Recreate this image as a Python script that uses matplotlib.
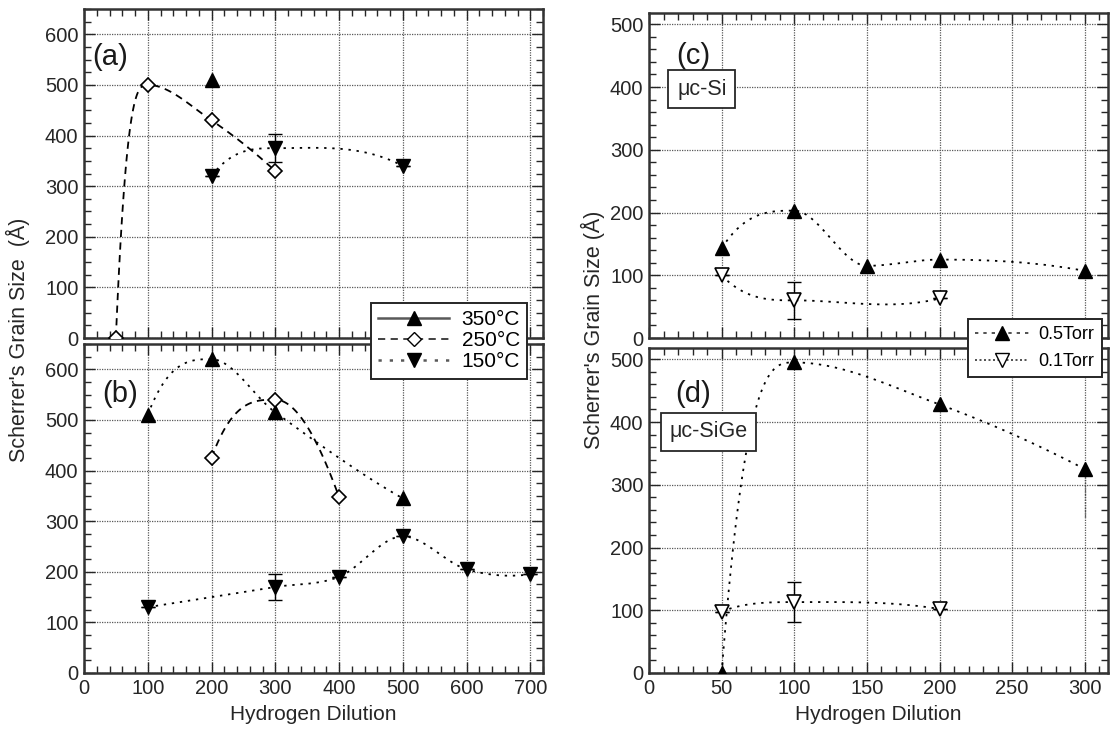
import numpy as np
import matplotlib
matplotlib.use("Agg")
import matplotlib.pyplot as plt
from matplotlib.lines import Line2D
from matplotlib.ticker import MultipleLocator

plt.rcParams["font.family"] = ["Liberation Sans", "DejaVu Sans"]

# ---- data ----
# (a) and (b): grain size vs hydrogen dilution for three substrate temperatures
a_350_x = [200]
a_350_y = [510]
a_250_x = [50, 100, 200, 300]
a_250_y = [0, 500, 430, 330]
a_150_x = [200, 300, 500]
a_150_y = [320, 375, 340]
a_150_err = [0, 28, 0]

b_350_x = [100, 200, 300, 500]
b_350_y = [510, 620, 515, 345]
b_250_x = [200, 300, 400]
b_250_y = [425, 540, 348]
b_150_x = [100, 300, 400, 500, 600, 700]
b_150_y = [130, 170, 190, 270, 205, 195]
b_150_err = [0, 25, 0, 0, 0, 0]

# (c) uc-Si and (d) uc-SiGe for two pressures
c_05_x = [50, 100, 150, 200, 300]
c_05_y = [143, 203, 115, 125, 107]
c_01_x = [50, 100, 200]
c_01_y = [100, 60, 63]
c_01_err = [0, 30, 0]

d_05_x = [50, 100, 200, 300]
d_05_y = [0, 495, 428, 325]
d_05_err_low = [0, 0, 0, 77]
d_01_x = [50, 100, 200]
d_01_y = [98, 113, 102]
d_01_err = [0, 32, 0]

W, H = 1113, 730


def smooth(xs, ys, n=40):
    """Shape-preserving Hermite curve through the points (guide line only)."""
    xs = np.asarray(xs, float)
    ys = np.asarray(ys, float)
    d = np.diff(ys) / np.diff(xs)
    m = np.empty_like(ys)
    m[0] = d[0]
    m[-1] = d[-1]
    for i in range(1, len(xs) - 1):
        if d[i - 1] * d[i] <= 0:
            m[i] = 0.0
        else:
            m[i] = (ys[i + 1] - ys[i - 1]) / (xs[i + 1] - xs[i - 1])
    if len(xs) > 2:
        if m[1] == 0:
            m[0] = 3 * d[0]
        else:
            h0, h1 = xs[1] - xs[0], xs[2] - xs[1]
            m[0] = ((2 * h0 + h1) * d[0] - h0 * d[1]) / (h0 + h1)
        h0, h1 = xs[-1] - xs[-2], xs[-2] - xs[-3]
        m[-1] = ((2 * h0 + h1) * d[-1] - h0 * d[-2]) / (h0 + h1)
    out_x, out_y = [], []
    for i in range(len(xs) - 1):
        h = xs[i + 1] - xs[i]
        t = np.linspace(0, 1, n)
        h00 = 2 * t**3 - 3 * t**2 + 1
        h10 = t**3 - 2 * t**2 + t
        h01 = -2 * t**3 + 3 * t**2
        h11 = t**3 - t**2
        out_x.extend(xs[i] + t * h)
        out_y.extend(h00 * ys[i] + h10 * h * m[i] + h01 * ys[i + 1] + h11 * h * m[i + 1])
    return np.array(out_x), np.array(out_y)


def axes_px(fig, left, top, right, bottom):
    return fig.add_axes([left / W, 1 - bottom / H, (right - left) / W, (bottom - top) / H])


def style_axes(ax, xmax, ymax, xmajor, xminor, ymajor, yminor, show_x):
    ax.set_xlim(0, xmax)
    ax.set_ylim(0, ymax)
    ax.xaxis.set_major_locator(MultipleLocator(xmajor))
    ax.xaxis.set_minor_locator(MultipleLocator(xminor))
    ax.yaxis.set_major_locator(MultipleLocator(ymajor))
    ax.yaxis.set_minor_locator(MultipleLocator(yminor))
    ax.tick_params(which="both", direction="in", top=True, right=True, labelsize=14.5,
                   colors="0.15", pad=4)
    ax.tick_params(which="major", length=8, width=1.0)
    ax.tick_params(which="minor", length=5, width=1.0)
    ax.grid(True, which="major", color="0.35", linestyle=(0, (1, 1)), linewidth=0.9)
    for sp in ax.spines.values():
        sp.set_linewidth(1.8)
        sp.set_color("0.2")
    if not show_x:
        ax.tick_params(labelbottom=False)


def curve(ax, xs, ys, ls, lw=1.3):
    sx, sy = smooth(xs, ys)
    ax.plot(sx, sy, color="black", linestyle=ls, linewidth=lw, zorder=2)


def errbar(ax, xs, ys, yerr, cap=5, color="black", ls="-"):
    eb = ax.errorbar(xs, ys, yerr=yerr, fmt="none", ecolor=color, elinewidth=1,
                     capsize=cap, zorder=3)
    eb[2][0].set_linestyle(ls)


up = dict(marker="^", color="black", markersize=10, linestyle="none", zorder=4)
dn = dict(marker="v", color="black", markersize=10, linestyle="none", zorder=4)
dia = dict(marker="D", markerfacecolor="white", markeredgecolor="black", markersize=7.5,
           markeredgewidth=1.2, linestyle="none", zorder=4)
dn_open = dict(marker="v", markerfacecolor="white", markeredgecolor="black", markersize=10.5,
               markeredgewidth=1.2, linestyle="none", zorder=4)

dashed = (0, (4, 3))
dotted = (0, (1.3, 3.2))

fig = plt.figure(figsize=(W / 100, H / 100), dpi=100)

# ---- left column ----
ax_a = axes_px(fig, 84, 9, 543, 338)
ax_b = axes_px(fig, 84, 344, 543, 673)
for ax, lab in ((ax_a, False), (ax_b, True)):
    style_axes(ax, 720, 650, 100, 20, 100, 25, lab)

curve(ax_a, a_250_x, a_250_y, dashed)
curve(ax_a, a_150_x, a_150_y, dotted)
ax_a.plot(a_350_x, a_350_y, **up)
ax_a.plot(a_250_x, a_250_y, **dia)
errbar(ax_a, a_150_x, a_150_y, a_150_err)
ax_a.plot(a_150_x, a_150_y, **dn)
ax_a.text(0.017, 0.854, "(a)", transform=ax_a.transAxes, fontsize=21, va="center", color="0.1")

curve(ax_b, b_350_x, b_350_y, dotted)
curve(ax_b, b_250_x, b_250_y, dashed)
curve(ax_b, b_150_x, b_150_y, dotted)
ax_b.plot(b_350_x, b_350_y, **up)
ax_b.plot(b_250_x, b_250_y, **dia)
errbar(ax_b, b_150_x, b_150_y, b_150_err)
ax_b.plot(b_150_x, b_150_y, **dn)
ax_b.text(0.039, 0.848, "(b)", transform=ax_b.transAxes, fontsize=21, va="center", color="0.1")
ax_b.set_xlabel("Hydrogen Dilution", fontsize=15, color="0.15", labelpad=5)

left_handles = [
    Line2D([], [], color="0.35", linestyle="-", linewidth=1.8, marker="^", markersize=10,
           markerfacecolor="black", markeredgecolor="black"),
    Line2D([], [], color="0.2", linestyle=dashed, linewidth=1.3, marker="D", markersize=7.5,
           markerfacecolor="white", markeredgecolor="black"),
    Line2D([], [], color="0.35", linestyle=dotted, linewidth=1.8, marker="v", markersize=10,
           markerfacecolor="black", markeredgecolor="black"),
]
leg = fig.legend(left_handles, ["350°C", "250°C", "150°C"], loc="upper left",
                 bbox_to_anchor=(371 / W, 1 - 303 / H), fontsize=15, handlelength=3.4,
                 handletextpad=0.6, labelspacing=0.1, borderpad=0.35, borderaxespad=0,
                 fancybox=False, framealpha=1, edgecolor="0.15")
leg.get_frame().set_linewidth(1.4)

fig.text(18 / W, 1 - 340 / H, "Scherrer's Grain Size  (Å)", rotation=90, fontsize=15.5,
         color="0.15", ha="center", va="center")

# ---- right column ----
ax_c = axes_px(fig, 649, 13, 1108, 338)
ax_d = axes_px(fig, 649, 348, 1108, 673)
for ax, lab in ((ax_c, False), (ax_d, True)):
    style_axes(ax, 316, 518, 50, 10, 100, 20, lab)

curve(ax_c, c_05_x, c_05_y, dotted)
curve(ax_c, c_01_x, c_01_y, dotted)
ax_c.plot(c_05_x, c_05_y, **up)
errbar(ax_c, c_01_x, c_01_y, c_01_err)
ax_c.plot(c_01_x, c_01_y, **dn_open)
ax_c.text(0.059, 0.868, "(c)", transform=ax_c.transAxes, fontsize=21, va="center", color="0.1")
ax_c.text(0.115, 0.766, "μc-Si", transform=ax_c.transAxes, fontsize=15.5, ha="center", va="center",
          color="0.15",
          bbox=dict(boxstyle="square,pad=0.4", facecolor="white", edgecolor="0.15", linewidth=1.3))

curve(ax_d, d_05_x, d_05_y, dotted)
curve(ax_d, d_01_x, d_01_y, dotted)
ax_d.plot(d_05_x, d_05_y, **up)
errbar(ax_d, d_05_x, d_05_y, [d_05_err_low, [0] * len(d_05_x)], cap=0, color="0.3", ls=(0, (1, 1)))
errbar(ax_d, d_01_x, d_01_y, d_01_err)
ax_d.plot(d_01_x, d_01_y, **dn_open)
ax_d.text(0.057, 0.86, "(d)", transform=ax_d.transAxes, fontsize=21, va="center", color="0.1")
ax_d.text(0.129, 0.742, "μc-SiGe", transform=ax_d.transAxes, fontsize=15.5, ha="center", va="center",
          color="0.15",
          bbox=dict(boxstyle="square,pad=0.4", facecolor="white", edgecolor="0.15", linewidth=1.3))
ax_d.set_xlabel("Hydrogen Dilution", fontsize=15, color="0.15", labelpad=5)

right_handles = [
    Line2D([], [], color="0.2", linestyle=(0, (2, 3)), linewidth=1.2, marker="^", markersize=10,
           markerfacecolor="black", markeredgecolor="black"),
    Line2D([], [], color="0.2", linestyle=(0, (1.2, 1.5)), linewidth=1.2, marker="v", markersize=10,
           markerfacecolor="white", markeredgecolor="black"),
]
leg2 = fig.legend(right_handles, ["0.5Torr", "0.1Torr"], loc="upper left",
                  bbox_to_anchor=(968 / W, 1 - 319 / H), fontsize=13, handlelength=3.0,
                  handletextpad=0.5, labelspacing=0.55, borderpad=0.4, borderaxespad=0,
                  fancybox=False, framealpha=1, edgecolor="0.15")
leg2.get_frame().set_linewidth(1.4)

fig.text(593 / W, 1 - 330 / H, "Scherrer's Grain Size (Å)", rotation=90, fontsize=15.5,
         color="0.15", ha="center", va="center")

fig.savefig("out.png", dpi=100)
